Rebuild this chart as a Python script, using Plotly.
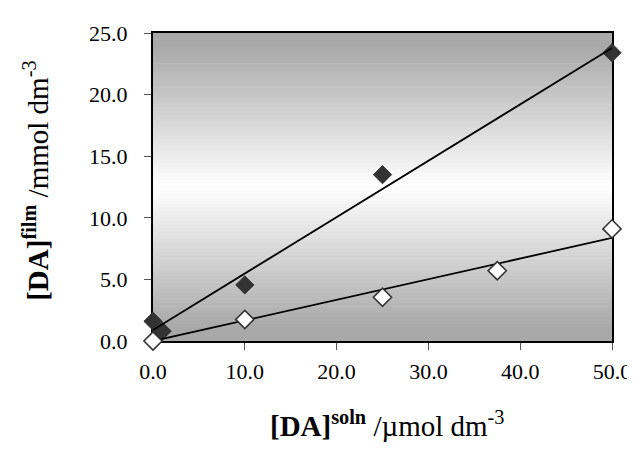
import numpy as np
import plotly.graph_objects as go

# Data
soln_filled = [0.0, 1.0, 10.0, 25.0, 50.0]
film_filled = [1.6, 0.8, 4.55, 13.5, 23.4]

soln_open = [0.0, 10.0, 25.0, 37.5, 50.0]
film_open = [0.0, 1.75, 3.55, 5.7, 9.1]

x_ticks = [0, 10, 20, 30, 40, 50]
y_ticks = [0, 5, 10, 15, 20, 25]

# Linear trend lines (filled: ordinary least squares; open: through origin)
m1, c1 = np.polyfit(soln_filled, film_filled, 1)
xo = np.array(soln_open)
m2 = float(np.dot(xo, film_open) / np.dot(xo, xo))
fit_x = [0.0, 50.0]
fit_filled = [c1 + m1 * v for v in fit_x]
fit_open = [m2 * v for v in fit_x]

FONT = "Liberation Serif"

fig = go.Figure()

fig.add_trace(go.Scatter(
    x=soln_filled, y=film_filled, mode="markers",
    marker=dict(symbol="diamond", size=14, color="#333333",
                line=dict(color="#333333", width=1)),
    cliponaxis=False, showlegend=False))
fig.add_trace(go.Scatter(
    x=fit_x, y=fit_filled, mode="lines",
    line=dict(color="black", width=1.8), cliponaxis=False, showlegend=False))
fig.add_trace(go.Scatter(
    x=fit_x, y=fit_open, mode="lines",
    line=dict(color="black", width=1.8), cliponaxis=False, showlegend=False))
fig.add_trace(go.Scatter(
    x=soln_open, y=film_open, mode="markers",
    marker=dict(symbol="diamond", size=14, color="white",
                line=dict(color="#333333", width=1.6)),
    cliponaxis=False, showlegend=False))

# Gradient background of the plot area (grey at top and bottom, white centre)
shapes = []
N = 90
for i in range(N):
    t0 = i / N
    t1 = (i + 1) / N
    tm = (t0 + t1) / 2
    d = min(1.0, abs(tm - 0.5) * 2 / 0.92)
    g = int(round(255 - d * (255 - 168)))
    shapes.append(dict(type="rect", xref="x domain", yref="y domain",
                       x0=0, x1=1, y0=t0, y1=t1 + 0.002, layer="below",
                       line=dict(width=0), fillcolor=f"rgb({g},{g},{g})"))

fig.update_layout(
    width=635, height=450,
    margin=dict(l=145, r=23, t=25, b=117),
    paper_bgcolor="white", plot_bgcolor="white",
    font=dict(family=FONT, size=22, color="black"),
    shapes=shapes,
    xaxis=dict(range=[0, 50], tickvals=x_ticks, tickformat=".1f",
               showgrid=False, zeroline=False, showline=True, linecolor="black",
               linewidth=2, mirror=True, ticks="outside", ticklen=7,
               tickcolor="#555555", tickwidth=1, layer="below traces",
               ticklabelstandoff=3,
               tickfont=dict(family=FONT, size=22)),
    yaxis=dict(range=[0, 25], tickvals=y_ticks, tickformat=".1f",
               showgrid=False, zeroline=False, showline=True, linecolor="black",
               linewidth=2, mirror=True, ticks="outside", ticklen=7,
               tickcolor="#555555", tickwidth=1, layer="below traces",
               ticklabelstandoff=12,
               tickfont=dict(family=FONT, size=22)),
    annotations=[
        dict(text="<b>[DA]<sup>soln</sup></b> /µmol dm<sup>-3</sup>",
             xref="paper", yref="paper", x=0.51, y=-0.27,
             xanchor="center", yanchor="middle", showarrow=False,
             font=dict(family=FONT, size=29)),
        dict(text="<b>[DA]<sup>film</sup></b> /mmol dm<sup>-3</sup>",
             xref="paper", yref="paper", x=-0.255, y=0.52,
             xanchor="center", yanchor="middle", showarrow=False,
             textangle=-90, font=dict(family=FONT, size=29)),
    ],
)

fig.write_html("out.html")
